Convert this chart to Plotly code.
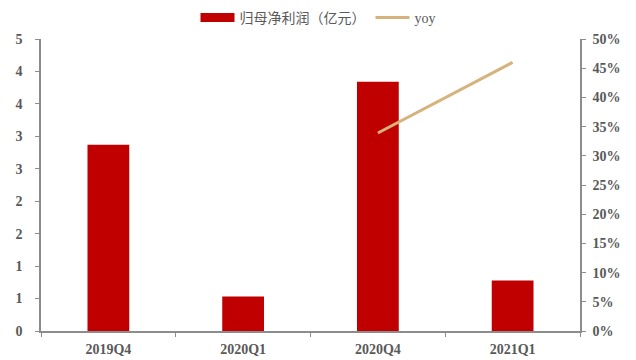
import plotly.graph_objects as go

categories = ["2019Q4", "2020Q1", "2020Q4", "2021Q1"]
profit = [2.87, 0.53, 3.84, 0.78]          # 归母净利润（亿元）
yoy = [None, None, 33.9, 46.0]             # %
left_tickvals = [0, 0.5, 1.0, 1.5, 2.0, 2.5, 3.0, 3.5, 4.0, 4.5]
left_ticktext = ["0", "1", "1", "2", "2", "3", "3", "4", "4", "5"]
right_tickvals = [0, 5, 10, 15, 20, 25, 30, 35, 40, 45, 50]
right_ticktext = ["0%", "5%", "10%", "15%", "20%", "25%", "30%", "35%", "40%", "45%", "50%"]

BAR_NAME = "归母净利润（亿元）"
LINE_NAME = "yoy"
RED = "#C00000"
TAN = "#D6B27C"
GRAY = "#595959"
AXIS = "#8C8C8C"
SERIF = "Liberation Serif, DejaVu Serif, serif"

fig = go.Figure()
fig.add_trace(go.Bar(x=categories, y=profit, marker=dict(color=RED, line=dict(width=0)),
                     name=BAR_NAME, showlegend=False, yaxis="y"))
fig.add_trace(go.Scatter(x=categories, y=yoy, mode="lines", line=dict(color=TAN, width=3),
                         name=LINE_NAME, showlegend=False, yaxis="y2"))
# legend entries
fig.add_trace(go.Scatter(x=[None], y=[None], mode="lines", line=dict(color=RED, width=9),
                         name=BAR_NAME, yaxis="y"))
fig.add_trace(go.Scatter(x=[None], y=[None], mode="lines", line=dict(color=TAN, width=3),
                         name=LINE_NAME, yaxis="y2"))

fig.update_layout(
    width=636, height=360,
    margin=dict(l=41, r=56, t=39, b=29, autoexpand=False),
    paper_bgcolor="white", plot_bgcolor="white",
    bargap=0.69,
    showlegend=True,
    legend=dict(orientation="h", xref="container", yref="container", x=0.5, y=0.95,
                xanchor="center", yanchor="middle", itemwidth=34,
                font=dict(family="Liberation Serif, Noto Sans CJK SC, serif", size=14, color=GRAY),
                traceorder="normal", tracegroupgap=0, itemclick=False),
    xaxis=dict(type="category", showline=True, linecolor=AXIS, linewidth=1.5,
               ticks="outside", tickson="boundaries", ticklen=4, tickcolor=AXIS,
               showgrid=False, zeroline=False, automargin=False, ticklabelstandoff=4,
               tickfont=dict(family=SERIF, size=14, color=GRAY, weight="bold")),
    yaxis=dict(range=[0, 4.5], tickvals=left_tickvals, ticktext=left_ticktext,
               showline=True, linecolor=AXIS, linewidth=1.5, ticks="outside", ticklen=4,
               tickcolor=AXIS, showgrid=False, zeroline=False, automargin=False,
               ticklabelstandoff=10,
               tickfont=dict(family=SERIF, size=14, color=GRAY, weight="bold")),
    yaxis2=dict(range=[0, 50], tickvals=right_tickvals, ticktext=right_ticktext,
                overlaying="y", side="right", showline=True, linecolor=AXIS, linewidth=1.5,
                ticks="outside", ticklen=4, tickcolor=AXIS, showgrid=False, zeroline=False,
                automargin=False, ticklabelstandoff=4,
                tickfont=dict(family=SERIF, size=14, color=GRAY, weight="bold")),
)

fig.write_html("out.html")
